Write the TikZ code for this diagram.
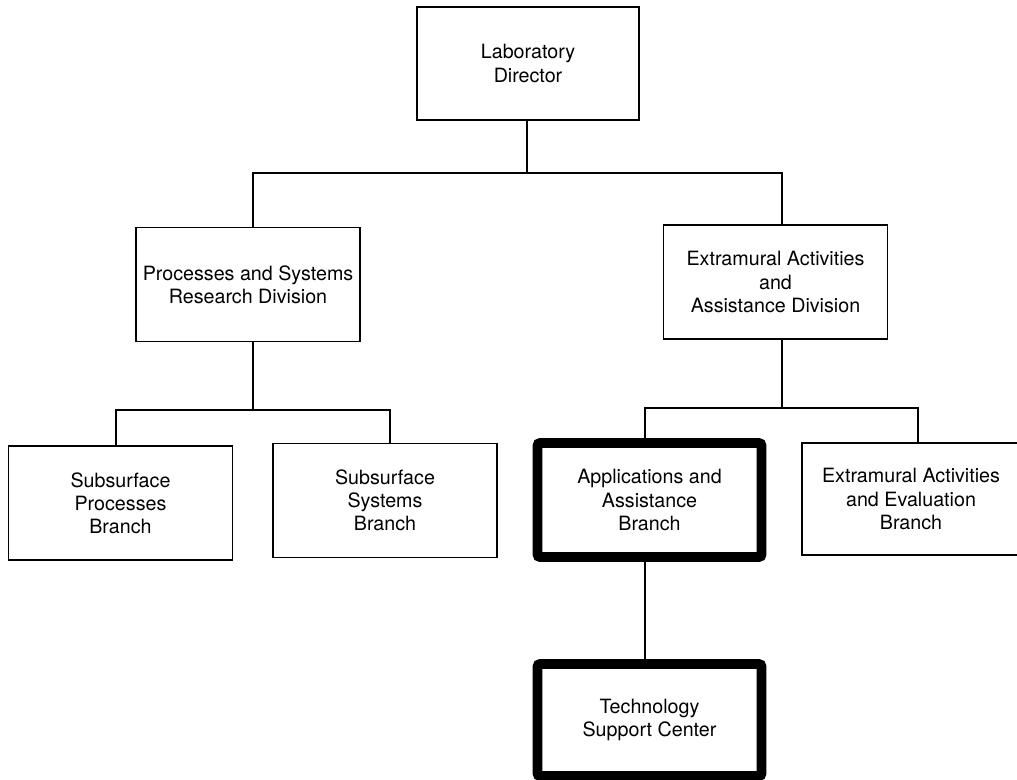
\documentclass[tikz,border=0pt]{standalone}
\usepackage{fontspec}
\setmainfont{TeX Gyre Heros}
\usepackage{tikz}
\usetikzlibrary{positioning}

\begin{document}
\begin{tikzpicture}[
  x=0.025cm, y=-0.025cm,
  every node/.style={font=\fontsize{14}{16.5}\selectfont, align=center},
  unit/.style={draw, line width=1pt, minimum width=5.6cm, minimum height=2.85cm, inner sep=2pt},
  hub/.style={unit, line width=7pt, rounded corners=2pt},
  conn/.style={line width=1pt}
]
\useasboundingbox (0,0) rectangle (1017,779);

% Director
\node[unit, minimum width=5.55cm, minimum height=2.83cm] (lab) at (528,63.5) {Laboratory\\Director};

% Divisions
\node[unit] (proc) at (248,284.5) {Processes and Systems\\Research Division};
\node[unit] (extdiv) at (775.5,282) {Extramural Activities\\and\\Assistance Division};

% Branches
\node[unit] (subproc) at (120.5,503) {Subsurface\\Processes\\Branch};
\node[unit] (subsys) at (385,500.5) {Subsurface\\Systems\\Branch};
\node[hub] (apps) at (649.5,500) {Applications and\\Assistance\\Branch};
\node[unit, minimum width=5.45cm, minimum height=2.8cm] (eval) at (911,499) {Extramural Activities\\and Evaluation\\Branch};

% Center
\node[hub, minimum height=2.8cm] (tsc) at (649.5,720) {Technology\\Support Center};

% Bar ends
\coordinate (topmid) at (527,173);
\coordinate (topL) at (253,173);
\coordinate (topR) at (782,173);
\coordinate (lowL1) at (116,410);
\coordinate (lowL2) at (390,410);
\coordinate (lowR1) at (645,408);
\coordinate (lowR2) at (918,408);

% Lines
\draw[conn] (lab.south -| topmid) -- (topmid);
\draw[conn] (topL |- proc.north) -- (topL) -- (topR) -- (topR |- extdiv.north);
\draw[conn] (proc.south -| topL) -- (topL |- lowL1);
\draw[conn] (lowL1 |- subproc.north) -- (lowL1) -- (lowL2) -- (lowL2 |- subsys.north);
\draw[conn] (extdiv.south -| topR) -- (topR |- lowR1);
\draw[conn] (lowR1 |- apps.north) -- (lowR1) -- (lowR2) -- (lowR2 |- eval.north);
\draw[conn] (apps.south -| lowR1) -- (lowR1 |- tsc.north);

\end{tikzpicture}
\end{document}
